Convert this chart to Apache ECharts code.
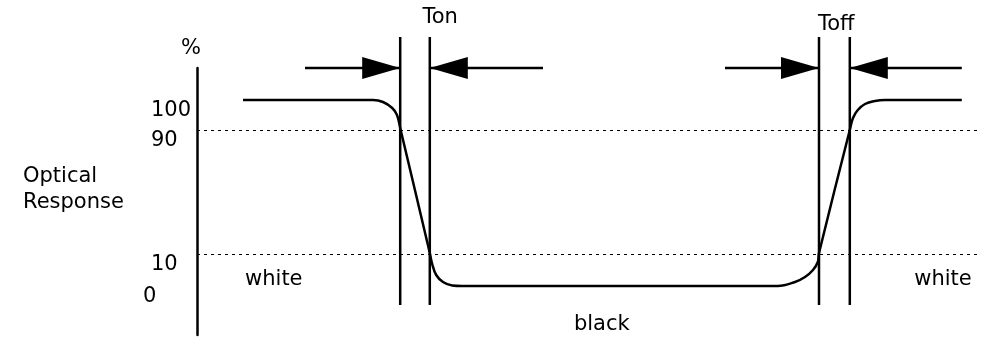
<!DOCTYPE html>
<html>
<head>
<meta charset="utf-8">
<script src="https://cdn.jsdelivr.net/npm/echarts@6/dist/echarts.min.js"></script>
<style>
html, body { margin: 0; background: #fff; }
#chart { width: 981px; height: 341px; }
</style>
</head>
<body>
<div id="chart"></div>
<script>
// schematic: time in arbitrary units, level in drawing units (not linear in %)
const levelNames = ['0', '10', '90', '100']
const levelPos = [0, 32, 156, 186]

// optical response, points (smoothed by the line series)
const respTime = [5.75, 22, 23.25, 24.4, 25, 25.4, 29.1, 29.4, 29.9, 30.75, 31.9, 33.1,
	72.6, 74.75, 76, 77, 77.6, 77.75, 81.6, 82, 82.6, 83.5, 84.75, 86, 95.6]
const respLevel = [186, 186, 184, 178, 171, 158, 33, 22, 11, 4, 0.5, 0,
	0, 4, 9, 16, 24, 33, 156, 168, 176, 182, 185, 186, 186]

// Ton pair then Toff pair
const edgeTimes = [25.4, 29.1, 77.75, 81.6]
const edgeLow = -19
const edgeHigh = 249

// arrows pointing at the edges
const arrowFrom = [13.5, 43.25, 66, 95.6]
const arrowTip = [25.4, 29.1, 77.75, 81.6]
const arrowLevel = 218

// free text
const noteText = ['Ton', 'Toff', 'white', 'white', 'black']
const noteTime = [30.4, 79.9, 9.6, 93.25, 50.6]
const noteLevel = [268, 261, 6, 6, -39]

const FONT = 'DejaVu Sans'
const INK = '#000'
const FS = 21

const chart = echarts.init(document.getElementById('chart'))

const edgeSeries = edgeTimes.map(t => ({
	type: 'line',
	symbol: 'none',
	silent: true,
	clip: false,
	lineStyle: { color: INK, width: 2.5 },
	data: [[t, edgeLow], [t, edgeHigh]]
}))

const arrowSeries = arrowFrom.map((f, i) => {
	const right = f < arrowTip[i]
	return {
		type: 'line',
		symbol: 'none',
		silent: true,
		clip: false,
		lineStyle: { color: INK, width: 2.5 },
		itemStyle: { color: INK },
		data: [
			[f, arrowLevel],
			{
				value: [arrowTip[i], arrowLevel],
				symbol: 'triangle',
				symbolSize: [22, 38],
				symbolRotate: right ? -90 : 90,
				symbolOffset: [right ? -19 : 19, 0]
			}
		]
	}
})

chart.setOption({
	animation: false,
	backgroundColor: '#fff',
	textStyle: { fontFamily: FONT, color: INK },
	title: {
		text: 'Optical\nResponse',
		left: 18,
		top: 159,
		textStyle: { fontFamily: FONT, fontSize: FS, fontWeight: 'normal', color: INK, lineHeight: 26 }
	},
	grid: { left: 197, right: 0, top: 68, bottom: 6 },
	xAxis: { type: 'value', min: 0, max: 98, show: false },
	yAxis: {
		type: 'value',
		min: -49,
		max: 218,
		name: '%',
		nameLocation: 'end',
		nameGap: 9,
		nameTextStyle: { fontSize: FS, color: INK, padding: [0, 12, 0, 0] },
		axisLine: { show: true, lineStyle: { color: INK, width: 2.5 } },
		axisTick: { show: false },
		splitLine: { show: false },
		axisLabel: {
			customValues: levelPos,
			fontSize: FS,
			color: INK,
			align: 'left',
			verticalAlign: 'top',
			margin: 54,
			formatter: v => {
				const s = levelNames[levelPos.indexOf(v)]
				return v === 0 ? s : '{n|' + s + '}'
			},
			rich: { n: { fontSize: FS, color: INK, padding: [0, 0, 0, 8] } }
		}
	},
	series: [
		{
			name: 'response',
			type: 'line',
			smooth: 0.4,
			symbol: 'none',
			silent: true,
			lineStyle: { color: INK, width: 2.5 },
			data: respTime.map((t, i) => [t, respLevel[i]]),
			markLine: {
				silent: true,
				symbol: 'none',
				label: { show: false },
				lineStyle: { color: INK, width: 1, type: [3, 4] },
				data: [{ yAxis: levelPos[1] }, { yAxis: levelPos[2] }]
			}
		},
		...edgeSeries,
		...arrowSeries,
		{
			name: 'notes',
			type: 'scatter',
			silent: true,
			clip: false,
			symbolSize: 0,
			itemStyle: { color: '#fff', opacity: 1 },
			label: {
				show: true,
				position: 'inside',
				fontSize: FS,
				color: INK,
				textBorderWidth: 0,
				formatter: p => p.name
			},
			data: noteText.map((s, i) => ({ name: s, value: [noteTime[i], noteLevel[i]] }))
		}
	]
})
</script>
</body>
</html>
